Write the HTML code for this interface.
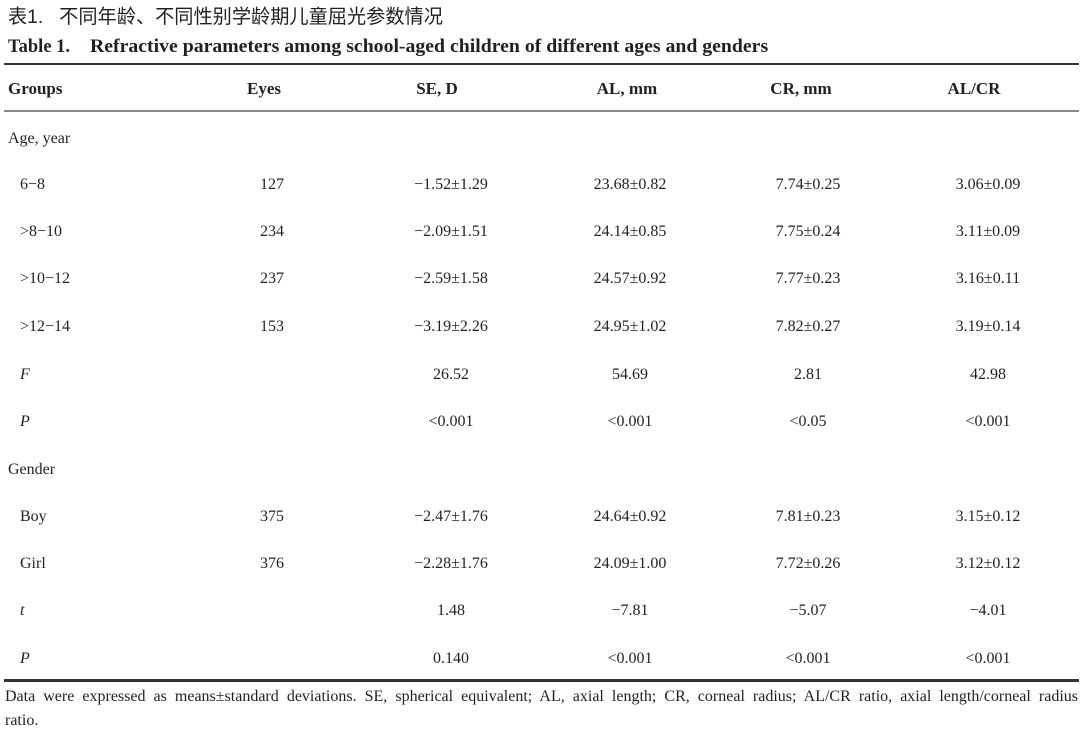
<!DOCTYPE html>
<html>
<head>
<meta charset="utf-8">
<style>
  html, body { margin:0; padding:0; }
  body { width:1080px; height:730px; background:#fff; position:relative; overflow:hidden;
         font-family:"Liberation Serif", "Noto Serif CJK SC", serif; color:#231f20; }
  .t { position:absolute; white-space:nowrap; line-height:20px; font-size:16px; }
  .c { transform:translateX(-50%); }
  .b { font-weight:bold; }
  .i { font-style:italic; }
  .line { position:absolute; left:4px; width:1075px; }
</style>
</head>
<body>
<div class="t" style="left:8px;top:7px;font-size:19.2px;line-height:22px;font-family:'Liberation Sans','Noto Sans CJK SC',sans-serif;color:#231f20;">表1.&nbsp;&nbsp;&nbsp;不同年龄、不同性别学龄期儿童屈光参数情况</div>
<div class="t b" style="left:8px;top:36px;font-size:18.5px;line-height:22px;">Table 1.</div>
<div class="t b" style="left:90px;top:36px;font-size:19px;line-height:22px;transform-origin:0 0;transform:scaleX(1.04);">Refractive parameters among school-aged children of different ages and genders</div>

<div class="line" style="top:63px;height:2px;background:#333;"></div>
<div class="line" style="top:110px;height:2px;background:#8a8a8a;"></div>
<div class="line" style="top:679px;height:2.5px;background:#333;"></div>

<!-- header -->
<div class="t b" style="left:8px;top:79px;font-size:17px;">Groups</div>
<div class="t b c" style="left:264px;top:79px;font-size:17px;">Eyes</div>
<div class="t b c" style="left:437px;top:79px;font-size:17px;">SE, D</div>
<div class="t b c" style="left:627px;top:79px;font-size:17px;">AL, mm</div>
<div class="t b c" style="left:801px;top:79px;font-size:17px;">CR, mm</div>
<div class="t b c" style="left:974px;top:79px;font-size:17px;">AL/CR</div>

<!-- Age section -->
<div class="t" style="left:8px;top:129px;">Age, year</div>

<div class="t" style="left:20px;top:175px;">6−8</div>
<div class="t c" style="left:272px;top:175px;">127</div>
<div class="t c" style="left:451px;top:175px;">−1.52±1.29</div>
<div class="t c" style="left:630px;top:175px;">23.68±0.82</div>
<div class="t c" style="left:808px;top:175px;">7.74±0.25</div>
<div class="t c" style="left:988px;top:175px;">3.06±0.09</div>

<div class="t" style="left:20px;top:222px;">&gt;8−10</div>
<div class="t c" style="left:272px;top:222px;">234</div>
<div class="t c" style="left:451px;top:222px;">−2.09±1.51</div>
<div class="t c" style="left:630px;top:222px;">24.14±0.85</div>
<div class="t c" style="left:808px;top:222px;">7.75±0.24</div>
<div class="t c" style="left:988px;top:222px;">3.11±0.09</div>

<div class="t" style="left:20px;top:269px;">&gt;10−12</div>
<div class="t c" style="left:272px;top:269px;">237</div>
<div class="t c" style="left:451px;top:269px;">−2.59±1.58</div>
<div class="t c" style="left:630px;top:269px;">24.57±0.92</div>
<div class="t c" style="left:808px;top:269px;">7.77±0.23</div>
<div class="t c" style="left:988px;top:269px;">3.16±0.11</div>

<div class="t" style="left:20px;top:317px;">&gt;12−14</div>
<div class="t c" style="left:272px;top:317px;">153</div>
<div class="t c" style="left:451px;top:317px;">−3.19±2.26</div>
<div class="t c" style="left:630px;top:317px;">24.95±1.02</div>
<div class="t c" style="left:808px;top:317px;">7.82±0.27</div>
<div class="t c" style="left:988px;top:317px;">3.19±0.14</div>

<div class="t i" style="left:20px;top:365px;">F</div>
<div class="t c" style="left:451px;top:365px;">26.52</div>
<div class="t c" style="left:630px;top:365px;">54.69</div>
<div class="t c" style="left:808px;top:365px;">2.81</div>
<div class="t c" style="left:988px;top:365px;">42.98</div>

<div class="t i" style="left:20px;top:412px;">P</div>
<div class="t c" style="left:451px;top:412px;">&lt;0.001</div>
<div class="t c" style="left:630px;top:412px;">&lt;0.001</div>
<div class="t c" style="left:808px;top:412px;">&lt;0.05</div>
<div class="t c" style="left:988px;top:412px;">&lt;0.001</div>

<!-- Gender section -->
<div class="t" style="left:8px;top:460px;">Gender</div>

<div class="t" style="left:20px;top:507px;">Boy</div>
<div class="t c" style="left:272px;top:507px;">375</div>
<div class="t c" style="left:451px;top:507px;">−2.47±1.76</div>
<div class="t c" style="left:630px;top:507px;">24.64±0.92</div>
<div class="t c" style="left:808px;top:507px;">7.81±0.23</div>
<div class="t c" style="left:988px;top:507px;">3.15±0.12</div>

<div class="t" style="left:20px;top:554px;">Girl</div>
<div class="t c" style="left:272px;top:554px;">376</div>
<div class="t c" style="left:451px;top:554px;">−2.28±1.76</div>
<div class="t c" style="left:630px;top:554px;">24.09±1.00</div>
<div class="t c" style="left:808px;top:554px;">7.72±0.26</div>
<div class="t c" style="left:988px;top:554px;">3.12±0.12</div>

<div class="t i" style="left:20px;top:601px;">t</div>
<div class="t c" style="left:451px;top:601px;">1.48</div>
<div class="t c" style="left:630px;top:601px;">−7.81</div>
<div class="t c" style="left:808px;top:601px;">−5.07</div>
<div class="t c" style="left:988px;top:601px;">−4.01</div>

<div class="t i" style="left:20px;top:649px;">P</div>
<div class="t c" style="left:451px;top:649px;">0.140</div>
<div class="t c" style="left:630px;top:649px;">&lt;0.001</div>
<div class="t c" style="left:808px;top:649px;">&lt;0.001</div>
<div class="t c" style="left:988px;top:649px;">&lt;0.001</div>

<!-- footnote -->
<div style="position:absolute;left:5px;top:688px;width:1073px;font-size:16px;line-height:18px;text-align:justify;text-align-last:justify;white-space:nowrap;">Data were expressed as means±standard deviations. SE, spherical equivalent; AL, axial length; CR, corneal radius; AL/CR ratio, axial length/corneal radius</div>
<div class="t" style="left:5px;top:712px;font-size:16px;line-height:18px;">ratio.</div>
</body>
</html>
